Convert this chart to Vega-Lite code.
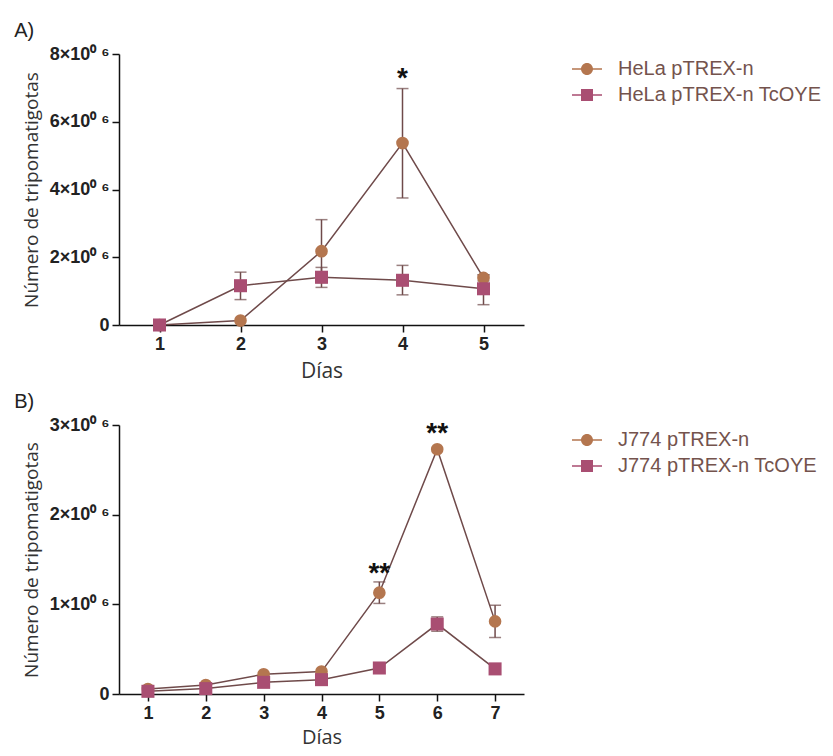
{
  "$schema": "https://vega.github.io/schema/vega-lite/v6.json",
  "padding": {"left": 14, "top": 21, "right": 2, "bottom": 0},
  "spacing": 11,
  "datasets": {
    "A": [
      {"serie": "HeLa pTREX-n", "dia": 1, "media": 0, "lo": null, "hi": null},
      {"serie": "HeLa pTREX-n", "dia": 2, "media": 130000, "lo": null, "hi": null},
      {"serie": "HeLa pTREX-n", "dia": 3, "media": 2180000, "lo": 1250000, "hi": 3110000},
      {"serie": "HeLa pTREX-n", "dia": 4, "media": 5370000, "lo": 3750000, "hi": 6980000},
      {"serie": "HeLa pTREX-n", "dia": 5, "media": 1390000, "lo": 1300000, "hi": 1480000},
      {"serie": "HeLa pTREX-n TcOYE", "dia": 1, "media": 0, "lo": null, "hi": null},
      {"serie": "HeLa pTREX-n TcOYE", "dia": 2, "media": 1160000, "lo": 750000, "hi": 1560000},
      {"serie": "HeLa pTREX-n TcOYE", "dia": 3, "media": 1410000, "lo": 1110000, "hi": 1700000},
      {"serie": "HeLa pTREX-n TcOYE", "dia": 4, "media": 1320000, "lo": 890000, "hi": 1760000},
      {"serie": "HeLa pTREX-n TcOYE", "dia": 5, "media": 1070000, "lo": 600000, "hi": 1480000}
    ],
    "B": [
      {"serie": "J774 pTREX-n", "dia": 1, "media": 56000, "lo": null, "hi": null},
      {"serie": "J774 pTREX-n", "dia": 2, "media": 100000, "lo": null, "hi": null},
      {"serie": "J774 pTREX-n", "dia": 3, "media": 220000, "lo": null, "hi": null},
      {"serie": "J774 pTREX-n", "dia": 4, "media": 250000, "lo": null, "hi": null},
      {"serie": "J774 pTREX-n", "dia": 5, "media": 1130000, "lo": 1010000, "hi": 1250000},
      {"serie": "J774 pTREX-n", "dia": 6, "media": 2730000, "lo": null, "hi": null},
      {"serie": "J774 pTREX-n", "dia": 7, "media": 810000, "lo": 630000, "hi": 990000},
      {"serie": "J774 pTREX-n TcOYE", "dia": 1, "media": 30000, "lo": null, "hi": null},
      {"serie": "J774 pTREX-n TcOYE", "dia": 2, "media": 60000, "lo": null, "hi": null},
      {"serie": "J774 pTREX-n TcOYE", "dia": 3, "media": 130000, "lo": null, "hi": null},
      {"serie": "J774 pTREX-n TcOYE", "dia": 4, "media": 160000, "lo": null, "hi": null},
      {"serie": "J774 pTREX-n TcOYE", "dia": 5, "media": 290000, "lo": null, "hi": null},
      {"serie": "J774 pTREX-n TcOYE", "dia": 6, "media": 780000, "lo": 700000, "hi": 860000},
      {"serie": "J774 pTREX-n TcOYE", "dia": 7, "media": 280000, "lo": null, "hi": null}
    ],
    "astA": [{"dia": 4, "y": 7250000, "label": "*"}],
    "astB": [
      {"dia": 5, "y": 1340000, "label": "**"},
      {"dia": 6, "y": 2900000, "label": "**"}
    ]
  },
  "config": {
    "view": {"stroke": null},
    "font": "Liberation Sans",
    "axis": {
      "grid": false,
      "domainColor": "#111111",
      "domainWidth": 1.5,
      "tickColor": "#111111",
      "tickWidth": 1.5,
      "tickSize": 7,
      "labelFont": "Liberation Sans",
      "labelFontWeight": "bold",
      "labelFontSize": 18,
      "labelColor": "#222222",
      "labelPadding": 3,
      "titleFont": "Open Sans",
      "titleFontSize": 19,
      "titleFontWeight": "normal",
      "titleColor": "#333333"
    },
    "legend": {
      "labelFont": "Liberation Sans",
      "labelFontSize": 20,
      "labelFontWeight": "normal",
      "labelColor": "#74534d",
      "labelLimit": 400,
      "symbolSize": 900,
      "symbolStrokeWidth": 0,
      "symbolOpacity": 1,
      "labelOffset": 16,
      "rowPadding": 1,
      "padding": 0,
      "offset": 48,
      "title": null
    },
    "title": {
      "font": "Liberation Sans",
      "fontSize": 20,
      "fontWeight": "normal",
      "color": "#222222",
      "anchor": "start",
      "frame": "bounds",
      "offset": 4,
      "dx": -8
    }
  },
  "resolve": {"scale": {"color": "independent", "shape": "independent", "x": "independent", "y": "independent"}},
  "vconcat": [
    {
      "title": "A)",
      "width": 405,
      "height": 271,
      "layer": [
        {
          "data": {"name": "A"},
          "mark": {"type": "point", "filled": true, "size": 170, "opacity": 0},
          "encoding": {
            "x": {"field": "dia", "type": "quantitative", "scale": {"domain": [0.5, 5.5], "nice": false},
                  "axis": {"values": [1, 2, 3, 4, 5], "title": "Días", "titlePadding": 7, "titleFontSize": 21, "format": "d"}},
            "y": {"field": "media", "type": "quantitative", "scale": {"domain": [0, 8000000], "nice": false},
                  "axis": {"values": [0, 2000000, 4000000, 6000000, 8000000], "title": "Número de tripomatigotas", "titlePadding": 8,
                           "labelExpr": "datum.value == 0 ? '0' : format(datum.value/1000000, 'd') + '×10⁰ ⁶'"}},
            "color": {"field": "serie", "type": "nominal",
                      "scale": {"domain": ["HeLa pTREX-n", "HeLa pTREX-n TcOYE"], "range": ["#b4764f", "#a94e72"]},
                      "legend": {"orient": "right"}},
            "shape": {"field": "serie", "type": "nominal",
                      "scale": {"domain": ["HeLa pTREX-n", "HeLa pTREX-n TcOYE"],
                                "range": ["M-1,-0.05L1,-0.05L1,0.05L-1,0.05Z M0.4,0A0.4,0.4 0 1,1 -0.4,0A0.4,0.4 0 1,1 0.4,0Z",
                                          "M-1,-0.05L1,-0.05L1,0.05L-1,0.05Z M-0.4,-0.4L0.4,-0.4L0.4,0.4L-0.4,0.4Z"]},
                      "legend": {"orient": "right"}}
          }
        },
        {
          "data": {"name": "A"},
          "mark": {"type": "line", "color": "#6f4a4a", "strokeWidth": 1.5},
          "encoding": {
            "x": {"field": "dia", "type": "quantitative", "title": "Días"},
            "y": {"field": "media", "type": "quantitative", "title": "Número de tripomatigotas"},
            "detail": {"field": "serie"}
          }
        },
        {
          "data": {"name": "A"},
          "transform": [{"filter": "datum.lo != null"}],
          "mark": {"type": "errorbar", "ticks": {"size": 12}, "color": "#6f4a4a", "thickness": 1.5},
          "encoding": {
            "x": {"field": "dia", "type": "quantitative", "title": "Días"},
            "y": {"field": "lo", "type": "quantitative", "title": "Número de tripomatigotas"},
            "y2": {"field": "hi"}
          }
        },
        {
          "data": {"name": "A"},
          "transform": [{"filter": "datum.serie == 'HeLa pTREX-n'"}],
          "mark": {"type": "point", "filled": true, "size": 160, "opacity": 1, "shape": "circle"},
          "encoding": {
            "x": {"field": "dia", "type": "quantitative", "title": "Días"},
            "y": {"field": "media", "type": "quantitative", "title": "Número de tripomatigotas"},
            "color": {"field": "serie", "type": "nominal", "legend": null}
          }
        },
        {
          "data": {"name": "A"},
          "transform": [{"filter": "datum.serie == 'HeLa pTREX-n TcOYE'"}],
          "mark": {"type": "point", "filled": true, "size": 170, "opacity": 1, "shape": "square"},
          "encoding": {
            "x": {"field": "dia", "type": "quantitative", "title": "Días"},
            "y": {"field": "media", "type": "quantitative", "title": "Número de tripomatigotas"},
            "color": {"field": "serie", "type": "nominal", "legend": null}
          }
        },
        {
          "data": {"name": "astA"},
          "mark": {"type": "text", "fontSize": 28, "fontWeight": "bold", "color": "#111111", "baseline": "middle"},
          "encoding": {
            "x": {"field": "dia", "type": "quantitative", "title": "Días"},
            "y": {"field": "y", "type": "quantitative", "title": "Número de tripomatigotas"},
            "text": {"field": "label"}
          }
        }
      ]
    },
    {
      "title": "B)",
      "width": 405,
      "height": 269,
      "layer": [
        {
          "data": {"name": "B"},
          "mark": {"type": "point", "filled": true, "size": 170, "opacity": 0},
          "encoding": {
            "x": {"field": "dia", "type": "quantitative", "scale": {"domain": [0.5, 7.5], "nice": false},
                  "axis": {"values": [1, 2, 3, 4, 5, 6, 7], "title": "Días", "titlePadding": 5, "titleFontSize": 20, "format": "d"}},
            "y": {"field": "media", "type": "quantitative", "scale": {"domain": [0, 3000000], "nice": false},
                  "axis": {"values": [0, 1000000, 2000000, 3000000], "title": "Número de tripomatigotas", "titlePadding": 8,
                           "labelExpr": "datum.value == 0 ? '0' : format(datum.value/1000000, 'd') + '×10⁰ ⁶'"}},
            "color": {"field": "serie", "type": "nominal",
                      "scale": {"domain": ["J774 pTREX-n", "J774 pTREX-n TcOYE"], "range": ["#b4764f", "#a94e72"]},
                      "legend": {"orient": "right"}},
            "shape": {"field": "serie", "type": "nominal",
                      "scale": {"domain": ["J774 pTREX-n", "J774 pTREX-n TcOYE"],
                                "range": ["M-1,-0.05L1,-0.05L1,0.05L-1,0.05Z M0.4,0A0.4,0.4 0 1,1 -0.4,0A0.4,0.4 0 1,1 0.4,0Z",
                                          "M-1,-0.05L1,-0.05L1,0.05L-1,0.05Z M-0.4,-0.4L0.4,-0.4L0.4,0.4L-0.4,0.4Z"]},
                      "legend": {"orient": "right"}}
          }
        },
        {
          "data": {"name": "B"},
          "mark": {"type": "line", "color": "#6f4a4a", "strokeWidth": 1.5},
          "encoding": {
            "x": {"field": "dia", "type": "quantitative", "title": "Días"},
            "y": {"field": "media", "type": "quantitative", "title": "Número de tripomatigotas"},
            "detail": {"field": "serie"}
          }
        },
        {
          "data": {"name": "B"},
          "transform": [{"filter": "datum.lo != null"}],
          "mark": {"type": "errorbar", "ticks": {"size": 12}, "color": "#6f4a4a", "thickness": 1.5},
          "encoding": {
            "x": {"field": "dia", "type": "quantitative", "title": "Días"},
            "y": {"field": "lo", "type": "quantitative", "title": "Número de tripomatigotas"},
            "y2": {"field": "hi"}
          }
        },
        {
          "data": {"name": "B"},
          "transform": [{"filter": "datum.serie == 'J774 pTREX-n'"}],
          "mark": {"type": "point", "filled": true, "size": 160, "opacity": 1, "shape": "circle"},
          "encoding": {
            "x": {"field": "dia", "type": "quantitative", "title": "Días"},
            "y": {"field": "media", "type": "quantitative", "title": "Número de tripomatigotas"},
            "color": {"field": "serie", "type": "nominal", "legend": null}
          }
        },
        {
          "data": {"name": "B"},
          "transform": [{"filter": "datum.serie == 'J774 pTREX-n TcOYE'"}],
          "mark": {"type": "point", "filled": true, "size": 170, "opacity": 1, "shape": "square"},
          "encoding": {
            "x": {"field": "dia", "type": "quantitative", "title": "Días"},
            "y": {"field": "media", "type": "quantitative", "title": "Número de tripomatigotas"},
            "color": {"field": "serie", "type": "nominal", "legend": null}
          }
        },
        {
          "data": {"name": "astB"},
          "mark": {"type": "text", "fontSize": 28, "fontWeight": "bold", "color": "#111111", "baseline": "middle"},
          "encoding": {
            "x": {"field": "dia", "type": "quantitative", "title": "Días"},
            "y": {"field": "y", "type": "quantitative", "title": "Número de tripomatigotas"},
            "text": {"field": "label"}
          }
        }
      ]
    }
  ]
}
